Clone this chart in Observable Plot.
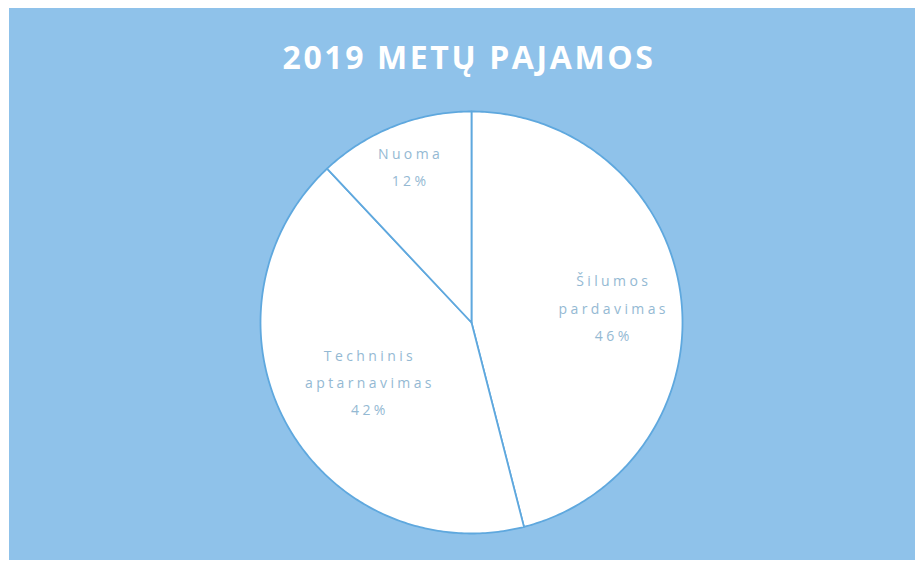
<!DOCTYPE html>
<html>
<head>
<meta charset="utf-8">
<script src="https://cdn.jsdelivr.net/npm/d3@7"></script>
<script src="https://cdn.jsdelivr.net/npm/@observablehq/plot@0.6"></script>
<style>
  html, body { margin: 0; padding: 0; background: #ffffff; width: 917px; height: 566px; overflow: hidden; }
  #panel { position: absolute; left: 9px; top: 8px; width: 906px; height: 552px; background: #8fc2ea; }
  #title { height: 95px; text-align: center; font-family: "Open Sans", sans-serif; font-weight: 700;
           font-size: 32px; color: #ffffff; line-height: 98px; letter-spacing: 2.6px; padding-left: 14px; box-sizing: border-box; }
  #chart svg { display: block; }
</style>
</head>
<body>
<div id="panel">
  <div id="title">2019 METŲ PAJAMOS</div>
  <div id="chart"></div>
</div>
<script>
const categories = ["Šilumos\npardavimas", "Techninis\naptarnavimas", "Nuoma"];
const shares = [46, 42, 12];
const percentLabels = ["46%", "42%", "12%"];

const table = categories.map((c, i) => ({category: c, value: shares[i], pct: percentLabels[i]}));

const pie = d3.pie().sort(null).value(d => d.value).startAngle(0).endAngle(2 * Math.PI);
const arcs = pie(table);

// polygon vertices for each slice, in unit-circle coordinates (y up)
const slicePoints = arcs.flatMap((a, i) => {
  const pts = [{slice: i, x: 0, y: 0}];
  const n = Math.max(8, Math.ceil((a.endAngle - a.startAngle) * 80));
  for (let k = 0; k <= n; k++) {
    const t = a.startAngle + (a.endAngle - a.startAngle) * k / n;
    pts.push({slice: i, x: Math.sin(t), y: Math.cos(t)});
  }
  pts.push({slice: i, x: 0, y: 0});
  return pts;
});

// label radius (fraction of pie radius) per slice, as placed by the original chart
const labelRadius = [0.67, 0.56, 0.81];
const labels = arcs.map((a, i) => {
  const mid = (a.startAngle + a.endAngle) / 2;
  return {x: labelRadius[i] * Math.sin(mid), y: labelRadius[i] * Math.cos(mid),
          text: a.data.category + "\n" + a.data.pct};
});

const W = 906, H = 457, R = 211, cx = 462, cy = 219;
const chart = Plot.plot({
  width: W, height: H,
  margin: 0,
  x: {domain: [-cx / R, (W - cx) / R], axis: null},
  y: {domain: [-(H - cy) / R, cy / R], axis: null},
  style: {background: "transparent", overflow: "visible"},
  marks: [
    Plot.line(slicePoints, {x: "x", y: "y", z: "slice", fill: "#ffffff", stroke: "#5fa8de", strokeWidth: 1.8, curve: "linear"}),
    Plot.text(labels, {x: "x", y: "y", text: "text", fill: "#94b9d3", fontSize: 14,
      fontFamily: "Open Sans, sans-serif", lineHeight: 1.95, dx: 2})
  ]
});
chart.querySelectorAll("text").forEach(t => t.setAttribute("letter-spacing", "3.4"));
document.getElementById("chart").appendChild(chart);
</script>
</body>
</html>
